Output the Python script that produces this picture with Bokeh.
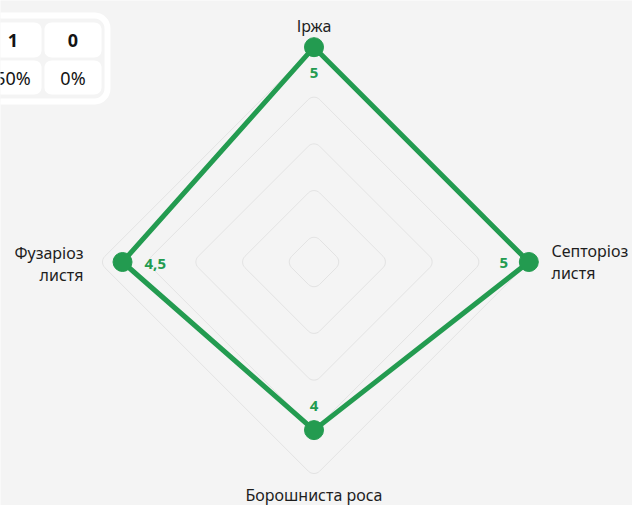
import math
from bokeh.plotting import figure
from bokeh.models import Range1d
from bokeh.core.properties import value
from bokeh.embed import file_html
from bokeh.resources import INLINE

# ---- data ----
categories = ["Іржа", "Септоріоз\nлистя", "Борошниста роса", "Фузаріоз\nлистя"]
angles_deg = [90, 0, -90, 180]
values = [5, 5, 4, 4.5]
value_labels = ["5", "5", "4", "4,5"]
grid_levels = [1, 2, 3, 4, 5]
radial_min = 0.4

box_counts = ["1", "0"]
box_percents = ["50%", "0%"]

# ---- layout constants ----
W, H = 632, 505
S = 46.7                 # px per value unit
CX, CY = 313.5, 261.5    # picture position of centre
GREEN = "#239b50"
BG = "#f4f4f4"
FONT = "Noto Sans"


def X(xp):
    return (xp - CX) / S


def Y(yp):
    return (CY - yp) / S


p = figure(width=W, height=H, output_backend="svg", toolbar_location=None,
           x_axis_type=None, y_axis_type=None,
           x_range=Range1d(X(0), X(W)), y_range=Range1d(Y(H), Y(0)),
           min_border=0)
p.grid.visible = False
p.outline_line_color = None
p.background_fill_color = BG
p.border_fill_color = BG

# ---- rounded diamond grid ----
rc = 8 / S
gx, gy = [], []
for k in grid_levels:
    R = k - radial_min
    xs, ys = [], []
    for a in angles_deg:
        t = math.radians(a)
        d = R - rc * math.sqrt(2)
        cx, cy = d * math.cos(t), d * math.sin(t)
        for i in range(13):
            phi = t + math.radians(45 - 90 * i / 12)
            xs.append(cx + rc * math.cos(phi))
            ys.append(cy + rc * math.sin(phi))
    xs.append(xs[0]); ys.append(ys[0])
    gx.append(xs); gy.append(ys)
p.multi_line(gx, gy, line_color="#e3e3e3", line_width=1)

# ---- data polygon ----
px = [(v - radial_min) * math.cos(math.radians(a)) for v, a in zip(values, angles_deg)]
py = [(v - radial_min) * math.sin(math.radians(a)) for v, a in zip(values, angles_deg)]
p.line(px + px[:1], py + py[:1], line_color=GREEN, line_width=5, line_join="round")
p.scatter(px, py, size=19, fill_color=GREEN, line_color=GREEN)

# value labels (placed inward toward centre)
for x, y, a, t_ in zip(px, py, angles_deg, value_labels):
    t = math.radians(a)
    if a == 180:
        lx, ly, al = x + 22 / S, y - 2 / S, "left"
    else:
        off = 25 / S
        lx, ly, al = x - off * math.cos(t), y - off * math.sin(t) - 1 / S, "center"
    p.text([lx], [ly], text=[t_], text_color=GREEN, text_font=value(FONT),
           text_font_style="bold", text_font_size="15px", text_align=al,
           text_baseline="middle")

# axis labels
lab_r = {90: 241.5, 0: 237.5, -90: 232.5, 180: 230.5}
for cat, a in zip(categories, angles_deg):
    t = math.radians(a)
    r = lab_r[a] / S
    align = {90: "center", 0: "left", -90: "center", 180: "right"}[a]
    base = {90: "alphabetic", 0: "middle", -90: "alphabetic", 180: "middle"}[a]
    x, y = r * math.cos(t), r * math.sin(t)
    if a == 90:
        y = Y(25)
    if a == -90:
        y = Y(494)
    if a == 180:
        y = Y(263.5)
    p.text([x], [y], text=[cat], text_color="#1e1e1e", text_font=value(FONT),
           text_font_size="16px", text_align=align, text_baseline=base,
           text_line_height=1.0)

# ---- top-left stats box ----
def rrect(x0, y0, x1, y1, r):
    X0, X1, YT, YB, ru = X(x0), X(x1), Y(y0), Y(y1), r / S
    xs, ys = [], []
    for (cx, cy, a0) in [(X1 - ru, YT - ru, 90), (X1 - ru, YB + ru, 0),
                         (X0 + ru, YB + ru, -90), (X0 + ru, YT - ru, 180)]:
        for i in range(9):
            phi = math.radians(a0 - 90 * i / 8)
            xs.append(cx + ru * math.cos(phi))
            ys.append(cy + ru * math.sin(phi))
    return xs, ys

ox, oy = rrect(-30, 15, 107, 101, 13)
p.patch(ox, oy, fill_color=BG, line_color="white", line_width=6)
cols = [(-16, 41), (44, 101)]
rows = [(22, 57), (60, 94)]
cx_l, cy_l = [], []
for (x0, x1) in cols:
    for (y0, y1) in rows:
        xs, ys = rrect(x0, y0, x1, y1, 7)
        cx_l.append(xs); cy_l.append(ys)
p.patches(cx_l, cy_l, fill_color="white", line_color=None)
for (x0, x1), c, pc in zip(cols, box_counts, box_percents):
    xm = X((x0 + x1) / 2)
    p.text([xm], [Y(39.5)], text=[c], text_color="#141414", text_font=value(FONT),
           text_font_style="bold", text_font_size="18px", text_align="center",
           text_baseline="middle")
    p.text([xm], [Y(77)], text=[pc], text_color="#141414", text_font=value(FONT),
           text_font_size="18px", text_align="center", text_baseline="middle")

open("out.html", "w").write(file_html(p, INLINE))
